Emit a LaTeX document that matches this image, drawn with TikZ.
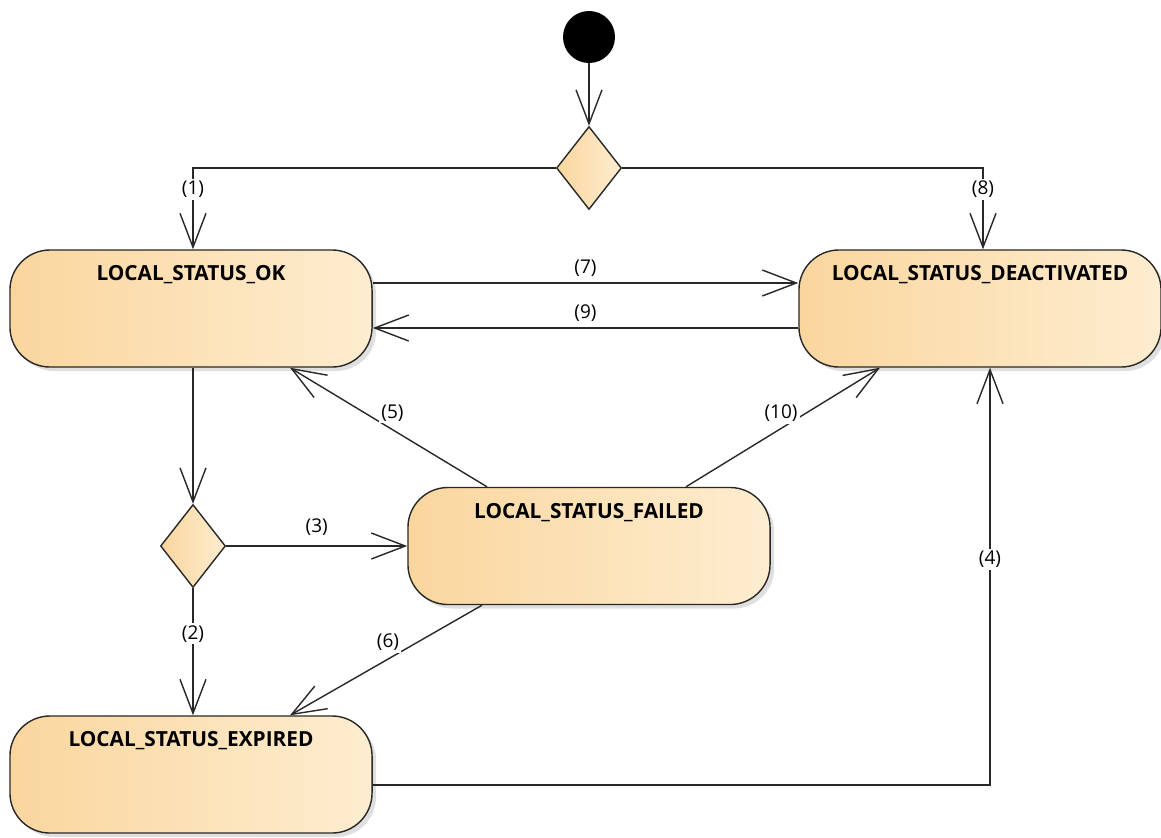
\documentclass[tikz,border=0pt]{standalone}
\usepackage{fontspec}
\setmainfont{Open Sans}
\usetikzlibrary{arrows.meta}
\usetikzlibrary{shapes.geometric}
\usetikzlibrary{shadows}
\definecolor{stateleft}{RGB}{250,214,158}
\definecolor{stateright}{RGB}{254,237,208}
\definecolor{edgegray}{RGB}{40,40,40}
\tikzset{state/.style={draw=edgegray, line width=1pt, rounded corners=1cm, minimum width=9.05cm, minimum height=2.925cm, left color=stateleft, right color=stateright, drop shadow={shadow xshift=0.1cm, shadow yshift=-0.1cm, opacity=0.25}}}
\tikzset{stname/.style={anchor=north, yshift=-0.28cm, font=\bfseries\fontsize{14.8}{17}\selectfont}}
\tikzset{choice/.style={diamond, draw=edgegray, line width=1pt, inner sep=0pt, minimum width=1.625cm, minimum height=2.075cm, left color=stateleft, right color=stateright}}
\tikzset{flow/.style={-{Straight Barb[length=0.85cm, width=0.65cm]}, draw=edgegray, line width=1pt}}
\tikzset{num/.style={fill=white, inner sep=1.5pt, font=\fontsize{13.5}{16}\selectfont}}

\begin{document}
\begin{tikzpicture}[x=0.025cm, y=-0.025cm]
        \useasboundingbox (0,0) rectangle (1161,837);

        \node[circle, fill=black, minimum size=1.3cm, inner sep=0pt] (start) at (589,37) {};
        \node[choice] (dec1) at (589,168) {};
        \node[state, label={[stname]north:LOCAL\_STATUS\_OK}] (ok) at (191,308.5) {};
        \node[state, label={[stname]north:LOCAL\_STATUS\_DEACTIVATED}] (deact) at (980,308.5) {};
        \node[state, label={[stname]north:LOCAL\_STATUS\_FAILED}] (failed) at (589,546) {};
        \node[choice] (dec2) at (193,546) {};
        \node[state, label={[stname]north:LOCAL\_STATUS\_EXPIRED}] (expired) at (191,774.5) {};

        \draw[flow] (start) -- (dec1);
        \draw[flow] (dec1.west) -| (ok.north -| 193,0)
            node [num,pos=0.63] {(1)};
        \draw[flow] (dec1.east) -| (deact.north -| 983,0)
            node [num,pos=0.63] {(8)};
        \draw[flow] (ok.east |- 0,283) -- (deact.west |- 0,283)
            node [num,midway,yshift=0.38cm] {(7)};
        \draw[flow] (deact.west |- 0,328) -- (ok.east |- 0,328)
            node [num,midway,yshift=0.38cm] {(9)};
        \draw[flow] (ok.south -| dec2) -- (dec2.north);
        \draw[flow] (dec2.east) -- (failed.west)
            node [num,midway,yshift=0.47cm] {(3)};
        \draw[flow] (dec2.south) -- (expired.north -| dec2)
            node [num,pos=0.36] {(2)};
        \draw[flow] (failed.north -| 487,0) -- (ok.south -| 290,0)
            node [num,pos=0.48,yshift=0.42cm] {(5)};
        \draw[flow] (failed.north -| 686,0) -- (deact.south -| 880,0)
            node [num,pos=0.49,yshift=0.38cm] {(10)};
        \draw[flow] (failed.south -| 482,0) -- (expired.north -| 290,0)
            node [num,pos=0.49,yshift=0.42cm] {(6)};
        \draw[flow] (expired.east |- 0,785) -| (deact.south -| 990,0)
            node [num,pos=0.77] {(4)};
    \end{tikzpicture}
\end{document}
